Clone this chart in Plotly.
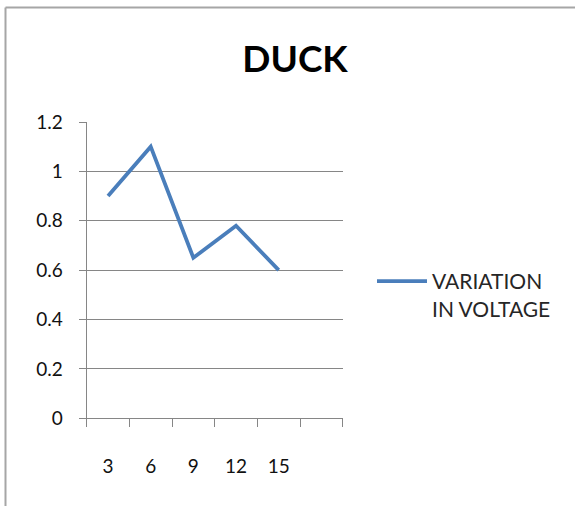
import plotly.graph_objects as go

# Sampling points (x) and measured voltage variation (y)
categories = [3, 6, 9, 12, 15]
voltage = [0.9, 1.1, 0.65, 0.78, 0.6]
series_name = "VARIATION<br>IN VOLTAGE"
y_ticks = [0, 0.2, 0.4, 0.6, 0.8, 1.0, 1.2]

W, H = 575, 506
font = "Lato, 'Open Sans', sans-serif"
grid = "#868686"

fig = go.Figure()
fig.add_trace(go.Scatter(
    x=categories, y=voltage, mode="lines", name=series_name,
    line=dict(color="#4A7EBB", width=3.8),
))

fig.update_layout(
    width=W, height=H,
    margin=dict(l=0, r=0, t=0, b=0),
    paper_bgcolor="white", plot_bgcolor="white",
    font=dict(family=font, size=19, color="#111111"),
    title=dict(text="<b>DUCK</b>", x=295 / W, xanchor="center",
               y=1 - 59 / H, yanchor="middle",
               font=dict(family=font, size=37, color="#000000")),
    showlegend=True,
    legend=dict(x=372 / W, xanchor="left", y=1 - 261 / H, yanchor="top",
                valign="top", itemwidth=50, bgcolor="rgba(0,0,0,0)",
                font=dict(family=font, size=21, color="#262626")),
    xaxis=dict(
        domain=[86.7 / W, 342.7 / W], automargin=False,
        range=[1.5, 19.5], showgrid=False, zeroline=False,
        tickmode="array", tickvals=categories,
        ticks="", ticklabelstandoff=31,
        showline=True, linecolor=grid, linewidth=1.2,
        minor=dict(tickmode="linear", tick0=1.5, dtick=3, ticks="outside",
                   ticklen=8, tickcolor=grid, tickwidth=1.2, showgrid=False),
    ),
    yaxis=dict(
        domain=[1 - 418.3 / H, 1 - 122 / H], automargin=False,
        range=[0, 1.2], tickmode="array", tickvals=y_ticks,
        showgrid=True, gridcolor=grid, gridwidth=1.2, zeroline=False,
        showline=True, linecolor=grid, linewidth=1.2,
        ticks="outside", ticklen=7, tickcolor=grid, tickwidth=1.2,
        ticklabelstandoff=12,
    ),
    shapes=[
        dict(type="line", xref="paper", yref="paper", x0=5.5 / W, x1=1,
             y0=1 - 7.5 / H, y1=1 - 7.5 / H, line=dict(color="#A6A6A6", width=2)),
        dict(type="line", xref="paper", yref="paper", x0=5.5 / W, x1=5.5 / W,
             y0=0, y1=1 - 7.5 / H, line=dict(color="#A6A6A6", width=2)),
    ],
)

fig.write_html("out.html")
